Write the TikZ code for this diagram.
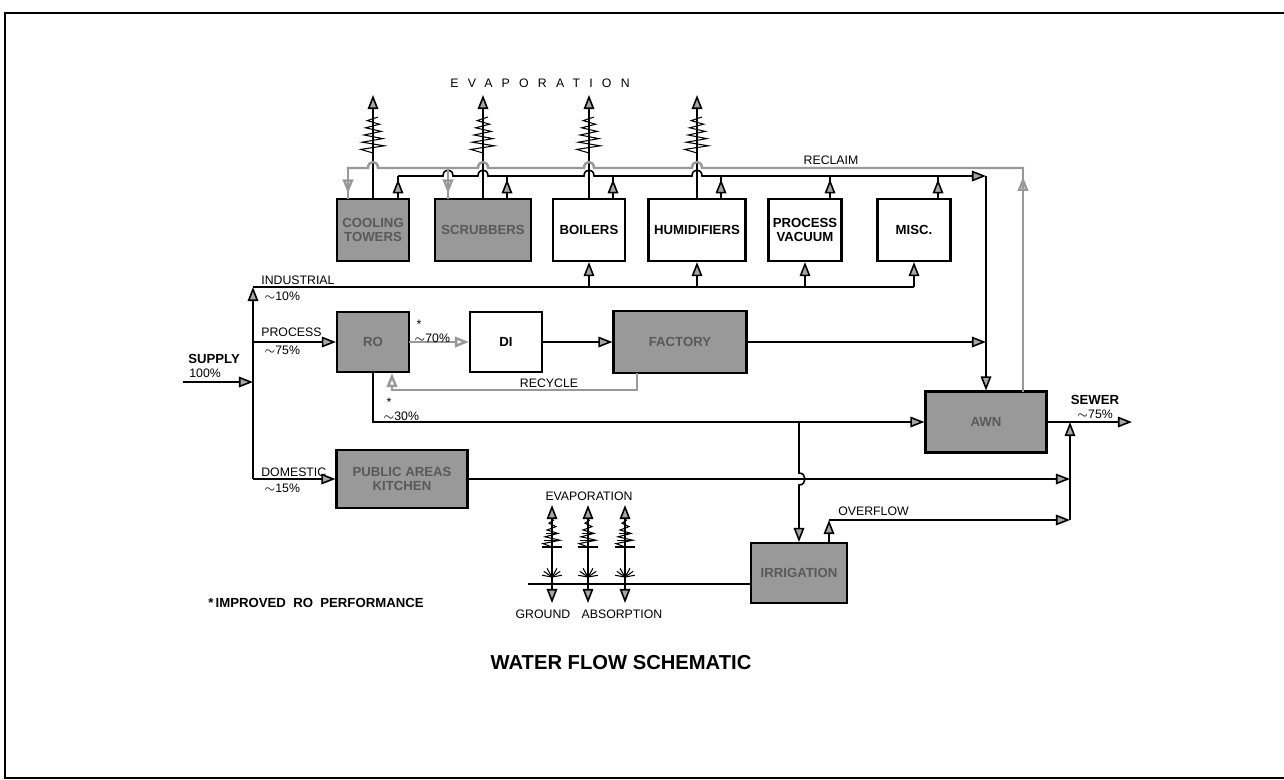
\documentclass[tikz,border=0pt]{standalone}
\usepackage{fontspec}
\setmainfont{Liberation Sans}
\usetikzlibrary{arrows.meta,positioning,calc,decorations.markings}

\tikzset{
  flowtip/.tip={Triangle[length=8pt,width=6pt,fill=black!35]},
  greytip/.tip={Triangle[length=8pt,width=6pt,open]},
}

\begin{document}
\begin{tikzpicture}[x=0.02cm, y=-0.02cm, >=Stealth,
  box/.style={draw, line width=1.2pt, fill=white, align=center, inner sep=1pt,
    font=\bfseries\fontsize{7.5}{8}\selectfont},
  grey box/.style={box, fill=black!40, text=black!65},
  flow/.style={line width=0.9pt},
  reclaim/.style={draw=black!40, line width=1.4pt, line cap=rect},
  lbl/.style={font=\fontsize{7}{8}\selectfont, inner sep=0pt},
  blbl/.style={font=\bfseries\fontsize{7.5}{8}\selectfont, inner sep=0pt},
  midtip/.style={postaction={decorate},
    decoration={markings, mark=at position #1 with {\arrow{flowtip}}}},
  greymid/.style={postaction={decorate},
    decoration={markings, mark=at position #1 with {\arrow{greytip}}}},
  steam/.pic={\draw[line width=0.6pt] (0,0)
    \foreach \k in {1,...,10}{ -- ({cos(180*\k)*(13-0.8*\k)},{-3.6*\k}) };},
  plume/.pic={\draw[line width=0.6pt] (0,0)
    \foreach \k in {1,...,8}{ -- ({cos(180*\k)*(10-1.0*\k)},{-3.4*\k}) };
    \foreach \k in {0,2,4}{\draw[line width=0.6pt] ({-(10-1.0*\k)},{-3.4*\k}) -- ({10-1.0*\k},{-3.4*\k});}},
  burst/.pic={\foreach \a in {190,215,240,270,300,325,350}{\draw[line width=0.6pt] (0,0) -- (\a:10);}},
]
\useasboundingbox (0,0) rectangle (1284,779);
\draw[line width=1.6pt] (1284,13) -- (5,13) -- (5,778) -- (1284,778);

% boxes
\node[grey box, minimum width=1.44cm, minimum height=1.24cm] (ct) at (373,230) {COOLING\\TOWERS};
\node[grey box, minimum width=1.92cm, minimum height=1.24cm] (scr) at (483,230) {SCRUBBERS};
\node[box, minimum width=1.44cm, minimum height=1.24cm] (boil) at (589,230) {BOILERS};
\node[box, minimum width=1.94cm, minimum height=1.24cm] (hum) at (697,230) {HUMIDIFIERS};
\node[box, minimum width=1.46cm, minimum height=1.24cm] (pv) at (805,230) {PROCESS\\VACUUM};
\node[box, minimum width=1.46cm, minimum height=1.24cm] (misc) at (914,230) {MISC.};
\node[grey box, minimum width=1.44cm, minimum height=1.2cm] (ro) at (373,342) {RO};
\node[box, minimum width=1.44cm, minimum height=1.2cm] (di) at (506,342) {DI};
\node[grey box, minimum width=2.66cm, minimum height=1.24cm] (fac) at (680,342) {FACTORY};
\node[grey box, minimum width=2.42cm, minimum height=1.22cm] (awn) at (986,422) {AWN};
\node[grey box, minimum width=2.62cm, minimum height=1.16cm] (pub) at (402,479) {PUBLIC AREAS\\KITCHEN};
\node[grey box, minimum width=1.92cm, minimum height=1.2cm] (irr) at (799,573) {IRRIGATION};

% evaporation stacks
\coordinate (st1) at (373,95);
\coordinate (st2) at (483,95);
\coordinate (st3) at (589,95);
\coordinate (st4) at (697,95);
\foreach \b/\s in {ct/st1, scr/st2, boil/st3, hum/st4} {
  \draw[flow,-{flowtip}] (\b.north) -- (\s);
  \path (\s) ++(0,58) pic {steam};
}

% return risers and bus to AWN
\coordinate (rt1) at (398,176);
\coordinate (rt2) at (507,176);
\coordinate (rt3) at (613,176);
\coordinate (rt4) at (721,176);
\coordinate (rt5) at (830,176);
\coordinate (rt6) at (938,176);
\coordinate (busR) at (986,176);
\foreach \b/\r in {ct/rt1, scr/rt2, boil/rt3, hum/rt4, pv/rt5, misc/rt6}
  \draw[flow, midtip=0.85] (\r |- \b.north) -- (\r);
\draw[flow,-{flowtip}] (rt1)
  \foreach \h in {448,483,589,697}{ -- (\h-5,176) .. controls (\h-5,168) and (\h+5,168) .. (\h+5,176) }
  -- (busR);
\draw[flow,-{flowtip}] (busR) -- (awn.north);
\draw[flow,-{flowtip}] (fac.east) -- (fac.east -| busR);

% reclaim
\coordinate (rcR) at (1023,168);
\coordinate (rcL) at (348,168);
\coordinate (rcS) at (448,168);
\draw[reclaim, greymid=0.96] (rcR |- awn.north) -- (rcR);
\draw[reclaim] (rcR)
  \foreach \h in {697,589,483,373}{ -- (\h+5,168) .. controls (\h+5,160) and (\h-5,160) .. (\h-5,168) }
  -- (rcL);
\draw[reclaim, greymid=0.85] (rcL) -- (rcL |- ct.north);
\draw[reclaim, greymid=0.85] (rcS) -- (rcS |- scr.north);

% supply and industrial
\coordinate (trunkT) at (253,287);
\coordinate (indE) at (914,287);
\coordinate (sup) at (183,382);
\draw[flow,-{flowtip}] (trunkT |- pub.west) -- (trunkT);
\draw[flow] (trunkT) -- (indE);
\foreach \b in {boil,hum,pv,misc}
  \draw[flow,-{flowtip}] (\b.south |- trunkT) -- (\b.south);
\draw[flow,-{flowtip}] (sup) -- (sup -| trunkT);
\draw[flow,-{flowtip}] (trunkT |- ro.west) -- (ro.west);
\draw[flow,-{flowtip}] (trunkT |- pub.west) -- (pub.west);

% process
\draw[reclaim,-{greytip}] (ro.east) -- (di.west);
\draw[flow,-{flowtip}] (di.east) -- (fac.west);
\coordinate (rcy) at (637,390);
\coordinate (rcyE) at (392,390);
\draw[reclaim,-{greytip}] (rcy |- fac.south) -- (rcy) -- (rcyE) -- (rcyE |- ro.south);
\coordinate (lo) at (373,422);
\draw[flow,-{flowtip}] (ro.south) -- (lo) -- (lo -| awn.west);

% irrigation, overflow, sewer
\coordinate (irrT) at (799,422);
\draw[flow,-{flowtip}] (irrT) -- ++(0,51) .. controls +(8,0) and +(8,0) .. ++(0,12) -- (irr.north);
\coordinate (sewJ) at (1070,422);
\coordinate (sewE) at (1132,422);
\coordinate (ovf) at (829,520);
\draw[flow,-{flowtip}] (pub.east) -- (pub.east -| sewJ);
\draw[flow,-{flowtip}] (ovf |- irr.north) -- (ovf);
\draw[flow,-{flowtip}] (ovf) -- (ovf -| sewJ);
\draw[flow,-{flowtip}] (ovf -| sewJ) -- (sewJ);
\draw[flow,-{flowtip}] (awn.east) -- (sewE);

% spray field
\coordinate (irW) at (528,584);
\draw[flow] (irr.west |- irW) -- (irW);
\foreach \x [count=\i] in {552,588,625} {
  \coordinate (sp\i) at (\x,584);
  \draw[flow,-{flowtip}] (sp\i) -- ++(0,-79);
  \draw[flow,-{flowtip}] (sp\i) -- ++(0,19);
  \path (sp\i) ++(0,-37) pic {plume};
  \path (sp\i) ++(0,-7) pic {burst};
}

% labels
\node[lbl] (evapT) at (540,83) {\addfontfeature{LetterSpace=75}EVAPORATION};
\node[lbl] (reclaimL) at (831,160) {RECLAIM};
\node[lbl, anchor=west] (indL) at (261,280) {INDUSTRIAL};
\node[lbl, anchor=west] (indP) at (264,296) {$\sim$10\%};
\node[lbl, anchor=west] (procL) at (261,332) {PROCESS};
\node[lbl, anchor=west] (procP) at (264,350) {$\sim$75\%};
\node[blbl, anchor=west] (supL) at (188,359) {SUPPLY};
\node[lbl, anchor=west] (supP) at (189,373) {100\%};
\node[lbl, anchor=west] (domL) at (261,472) {DOMESTIC};
\node[lbl, anchor=west] (domP) at (264,488) {$\sim$15\%};
\node[lbl, anchor=west] (p70) at (414,338) {$\sim$70\%};
\node[lbl] (s70) at (419,324) {*};
\node[lbl, anchor=west] (p30) at (383,416) {$\sim$30\%};
\node[lbl] (s30) at (389,402) {*};
\node[lbl] (recycleL) at (549,383) {RECYCLE};
\node[blbl] (sewL) at (1095,400) {SEWER};
\node[lbl] (sewP) at (1095,414) {$\sim$75\%};
\node[lbl, anchor=west] (ovfL) at (838,511) {OVERFLOW};
\node[lbl] (evapB) at (589,496) {EVAPORATION};
\node[lbl] (grdL) at (543,614) {GROUND};
\node[lbl] (absL) at (622,614) {ABSORPTION};
\node[blbl, anchor=west] (noteL) at (208,603) {*\,IMPROVED\ \ RO\ \ PERFORMANCE};
\node[font=\bfseries\fontsize{11.5}{13}\selectfont] (title) at (621,663) {WATER FLOW SCHEMATIC};
\end{tikzpicture}
\end{document}
